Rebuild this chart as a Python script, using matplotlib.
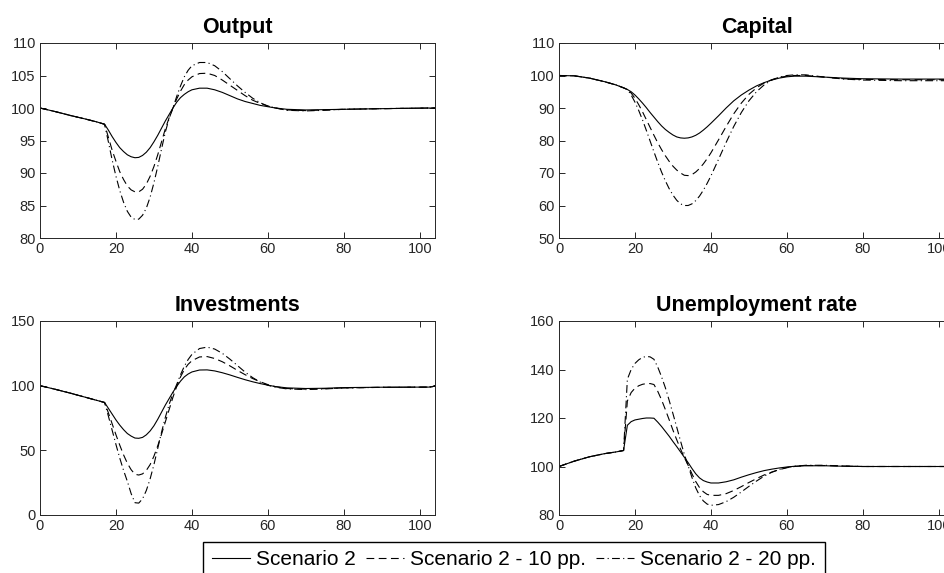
import matplotlib
matplotlib.use("Agg")
import matplotlib.pyplot as plt

plt.rcParams['font.family'] = ['Liberation Sans', 'DejaVu Sans']

t = [0, 4, 8, 12, 15, 17, 18, 19, 20, 21, 22, 23, 24, 25, 26, 27, 28, 29, 30, 31, 32, 33, 34, 35, 36, 37, 38, 39, 40,
     42, 44, 46, 48, 50, 52, 54, 56, 58, 60, 62, 65, 70, 75, 80, 90, 103, 104]

output_s2 = [100, 99.45, 98.85, 98.3, 97.85, 97.5, 96.6, 95.6, 94.7, 93.9, 93.3, 92.8, 92.5, 92.35, 92.4, 92.7, 93.2, 93.9,
             94.8, 95.8, 96.9, 98.0, 99.0, 100.0, 100.9, 101.6, 102.1, 102.5, 102.8,
             103.05, 103.05, 102.8, 102.4, 101.9, 101.4, 101.0, 100.7, 100.4, 100.2, 100.0, 99.8, 99.7, 99.75, 99.8, 99.9, 100, 100]
output_s10 = [100, 99.45, 98.85, 98.3, 97.85, 97.5, 95.5, 93.5, 91.8, 90.2, 89.0, 88.0, 87.4, 87.1, 87.1, 87.5, 88.3, 89.5,
              91.0, 92.8, 94.8, 96.8, 98.5, 100.0, 101.4, 102.6, 103.6, 104.3, 104.8,
              105.3, 105.35, 105.0, 104.3, 103.5, 102.7, 101.9, 101.2, 100.7, 100.3, 100.0, 99.7, 99.6, 99.7, 99.8, 99.9, 100, 100]
output_s20 = [100, 99.45, 98.85, 98.3, 97.85, 97.5, 94.8, 92.0, 89.5, 87.3, 85.5, 84.1, 83.2, 82.85, 82.9, 83.5, 84.6, 86.3,
              88.5, 91.0, 93.7, 96.3, 98.4, 100.0, 101.8, 103.4, 104.8, 105.8, 106.5,
              107.0, 107.0, 106.5, 105.6, 104.5, 103.4, 102.4, 101.5, 100.8, 100.3, 100.0, 99.65, 99.55, 99.65, 99.8, 99.9, 100, 100]

capital_s2 = [100, 99.9, 99.2, 98.1, 97.1, 96.2, 95.7, 95.0, 94.0, 92.8, 91.5, 90.1, 88.6, 87.2, 85.8, 84.5, 83.4, 82.5,
              81.7, 81.1, 80.8, 80.7, 80.8, 81.1, 81.6, 82.3, 83.2, 84.2, 85.3,
              87.6, 90.0, 92.2, 94.0, 95.5, 96.8, 97.8, 98.6, 99.2, 99.6, 99.8, 99.8, 99.5, 99.2, 99.0, 98.9, 98.9, 98.9]
capital_s10 = [100, 99.9, 99.2, 98.1, 97.1, 96.2, 95.7, 94.6, 93.0, 91.0, 88.8, 86.4, 84.0, 81.6, 79.3, 77.2, 75.3, 73.6,
               72.1, 70.9, 70.0, 69.3, 69.2, 69.5, 70.3, 71.4, 72.8, 74.4, 76.2,
               80.2, 84.3, 88.2, 91.5, 94.2, 96.2, 97.7, 98.7, 99.4, 99.8, 100.0, 100.0, 99.5, 99.0, 98.8, 98.7, 98.7, 98.7]
capital_s20 = [100, 99.9, 99.2, 98.1, 97.1, 96.2, 95.7, 94.0, 91.8, 89.2, 86.3, 83.1, 79.8, 76.5, 73.3, 70.3, 67.6, 65.2,
               63.2, 61.6, 60.5, 60.0, 60.0, 60.5, 61.5, 62.9, 64.7, 66.8, 69.1,
               74.2, 79.4, 84.3, 88.6, 92.2, 95.0, 97.1, 98.6, 99.5, 100.0, 100.2, 100.2, 99.5, 98.9, 98.6, 98.4, 98.4, 98.4]

invest_s2 = [100, 97.2, 94.2, 91.0, 88.6, 87.0, 82.5, 78.0, 73.5, 69.5, 66.0, 63.0, 61.0, 59.5, 59.3, 60.0, 62.0, 65.0,
             69.0, 74.0, 79.5, 85.0, 90.0, 95.0, 99.5, 103.5, 106.8, 109.0, 110.6,
             112.1, 112.2, 111.4, 110.0, 108.3, 106.4, 104.6, 103.0, 101.6, 100.4, 99.3, 98.3, 97.8, 98.0, 98.5, 98.8, 98.9, 100]
invest_s10 = [100, 97.2, 94.2, 91.0, 88.6, 87.0, 79.0, 70.5, 62.0, 54.0, 46.5, 40.0, 35.0, 31.5, 30.9, 31.8, 34.5, 39.0,
              45.5, 53.5, 62.5, 72.0, 81.5, 91.0, 99.5, 106.8, 112.5, 116.5, 119.3,
              122.2, 122.5, 121.0, 118.5, 115.3, 111.8, 108.5, 105.5, 103.0, 100.8, 99.2, 97.8, 97.3, 97.7, 98.3, 98.7, 98.9, 100]
invest_s20 = [100, 97.2, 94.2, 91.0, 88.6, 87.0, 76.5, 65.5, 54.5, 44.0, 34.5, 26.0, 16.5, 9.5, 9.2, 12.5, 19.0, 28.0,
              39.0, 51.5, 64.0, 75.5, 85.5, 94.0, 101.0, 108.5, 115.0, 120.2, 124.2,
              128.7, 129.8, 128.3, 125.0, 120.5, 115.5, 110.5, 106.2, 102.7, 100.3, 98.8, 97.5, 97.0, 97.5, 98.2, 98.7, 98.9, 100]

unemp_s2 = [100, 102.2, 104.0, 105.3, 106.0, 106.6, 117.0, 118.5, 119.2, 119.5, 119.8, 120.0, 120.0, 119.9, 118.3, 116.5,
            114.5, 112.5, 110.3, 108.2, 106.0, 103.8, 101.6, 99.2, 97.0, 95.3, 94.2, 93.6, 93.2,
            93.2, 93.7, 94.5, 95.6, 96.6, 97.5, 98.3, 98.9, 99.4, 99.8, 100.1, 100.3, 100.3, 100.1, 100, 100, 100, 100]
unemp_s10 = [100, 102.2, 104.0, 105.3, 106.0, 106.6, 127.0, 130.5, 132.3, 133.3, 133.9, 134.2, 134.2, 133.8, 131.0, 127.5,
             123.5, 119.3, 115.0, 111.0, 107.2, 103.7, 100.5, 97.0, 93.8, 91.3, 89.6, 88.5, 88.1,
             88.1, 88.8, 90.1, 91.7, 93.4, 95.0, 96.5, 97.7, 98.7, 99.5, 100.0, 100.4, 100.4, 100.2, 100, 100, 100, 100]
unemp_s20 = [100, 102.2, 104.0, 105.3, 106.0, 106.6, 136.0, 140.0, 142.5, 144.0, 145.0, 145.4, 145.2, 144.2, 141.0, 137.0,
             132.5, 127.3, 121.8, 116.2, 110.5, 105.0, 100.3, 95.5, 91.2, 88.0, 85.8, 84.5, 84.0,
             84.3, 85.5, 87.3, 89.5, 91.8, 94.0, 96.0, 97.6, 98.8, 99.6, 100.1, 100.5, 100.5, 100.2, 100, 100, 100, 100]

titles = ["Output", "Capital", "Investments", "Unemployment rate"]
labels = ["Scenario 2", "Scenario 2 - 10 pp.", "Scenario 2 - 20 pp."]
yticks = [[80, 85, 90, 95, 100, 105, 110], [50, 60, 70, 80, 90, 100, 110], [0, 50, 100, 150], [80, 100, 120, 140, 160]]
xticks = [0, 20, 40, 60, 80, 100]
data = [(output_s2, output_s10, output_s20), (capital_s2, capital_s10, capital_s20),
        (invest_s2, invest_s10, invest_s20), (unemp_s2, unemp_s10, unemp_s20)]

W, H = 945, 573
fig = plt.figure(figsize=(W / 100, H / 100), dpi=100)
axcol = '#262626'
positions = [(40, 43, 238), (559, 43, 238), (40, 321, 515), (559, 321, 515)]
lw = 0.8
handles = None
for i, (x0, ytop, ybot) in enumerate(positions):
    ax = fig.add_axes([x0 / W, 1 - ybot / H, 395 / W, (ybot - ytop) / H])
    s2, s10, s20 = data[i]
    l1, = ax.plot(t, s2, color='black', lw=lw, linestyle='-')
    l2, = ax.plot(t, s10, color='black', lw=lw, linestyle=(0, (7, 4)))
    l3, = ax.plot(t, s20, color='black', lw=lw, linestyle=(0, (7, 3, 1, 3)))
    handles = [l1, l2, l3]
    ax.set_xlim(0, 104)
    ax.set_ylim(yticks[i][0], yticks[i][-1])
    ax.set_xticks(xticks)
    ax.set_yticks(yticks[i])
    ax.tick_params(direction='in', length=4, width=0.7, top=True, right=True,
                   colors=axcol, labelsize=10.5, labelcolor=axcol, pad=3)
    for sp in ax.spines.values():
        sp.set_color(axcol)
        sp.set_linewidth(0.7)
    ax.set_title(titles[i], fontsize=15.5, fontweight='bold', pad=7)

fig.legend(handles, labels, loc='upper center', bbox_to_anchor=(514 / W, 1 - 542 / H), ncol=3,
           fontsize=15, frameon=True, fancybox=False, edgecolor='black', framealpha=1,
           handlelength=1.85, handletextpad=0.3, columnspacing=0.45, borderpad=0.4, borderaxespad=0)
fig.savefig('out.png', dpi=100)
